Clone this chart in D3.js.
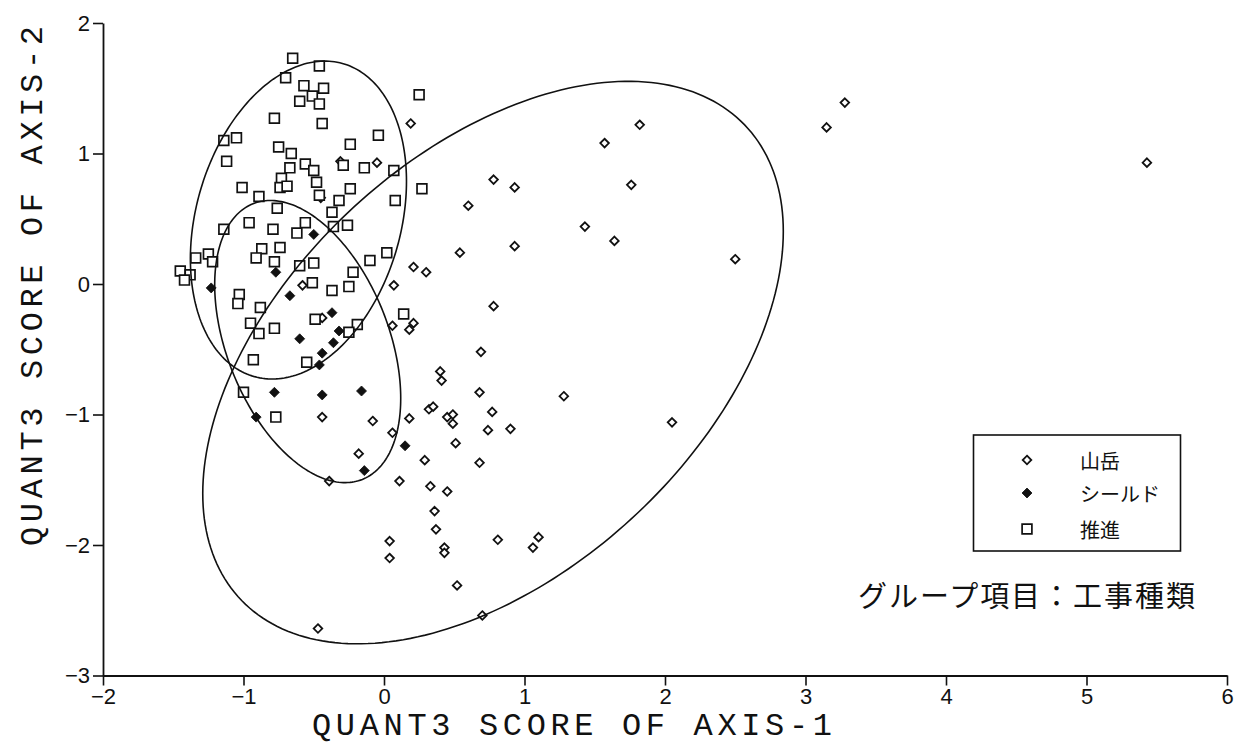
<!DOCTYPE html>
<html>
<head>
<meta charset="utf-8">
<script src="https://cdn.jsdelivr.net/npm/d3@7"></script>
<style>
  html, body { margin: 0; padding: 0; background: #fff; }
  svg { display: block; }
</style>
</head>
<body>
<svg id="chart" width="1234" height="746"></svg>
<script>
// ---- scores per group (axis-1, axis-2) ----
// 山岳
const yamaX = [0.19,-0.05,-0.31,-0.45,0.21,0.30,0.07,-0.58,-0.44,0.06,0.21,0.18,0.40,0.41,0.32,0.35,0.45,0.49,0.49,-0.44,
  -0.08,0.18,0.06,-0.18,0.29,-0.39,0.11,0.33,0.45,0.78,0.93,0.60,1.43,0.93,0.54,0.78,0.69,0.68,1.28,0.77,
  0.74,0.90,0.51,0.68,0.36,0.37,0.04,0.04,0.43,0.43,0.81,1.10,1.06,0.52,0.70,-0.47,1.82,1.57,1.76,1.64,
  2.50,2.05,3.15,3.28,5.43];
const yamaY = [1.23,0.93,0.94,0.66,0.13,0.09,-0.01,-0.01,-0.26,-0.32,-0.30,-0.35,-0.67,-0.74,-0.96,-0.94,-1.02,-1.00,-1.07,-1.02,
  -1.05,-1.03,-1.14,-1.30,-1.35,-1.51,-1.51,-1.55,-1.59,0.80,0.74,0.60,0.44,0.29,0.24,-0.17,-0.52,-0.83,-0.86,-0.98,
  -1.12,-1.11,-1.22,-1.37,-1.74,-1.88,-1.97,-2.10,-2.02,-2.06,-1.96,-1.94,-2.02,-2.31,-2.54,-2.64,1.22,1.08,0.76,0.33,
  0.19,-1.06,1.20,1.39,0.93];
// シールド
const shieldX = [-0.50,-0.77,-1.23,-0.67,-0.37,-0.32,-0.60,-0.36,-0.44,-0.46,-0.78,-0.44,-0.16,-0.91,0.15,-0.14];
const shieldY = [0.38,0.09,-0.03,-0.09,-0.22,-0.36,-0.42,-0.45,-0.53,-0.62,-0.83,-0.85,-0.82,-1.02,-1.24,-1.43];
// 推進
const suishinX = [-0.65,-0.46,-0.70,-0.57,-0.43,-0.51,-0.60,-0.46,0.25,-0.78,-0.44,-1.14,-1.05,-0.04,-0.75,-0.66,-0.24,-1.12,-0.56,-0.50,
  -0.67,-0.29,-0.14,0.07,-0.73,-0.48,-1.01,-0.74,-0.69,-0.24,0.27,-0.89,-0.46,-0.32,0.08,-0.76,-0.37,-1.14,-0.96,-0.79,
  -0.56,-0.62,-0.36,-0.26,-0.87,-0.74,-0.91,-0.78,-0.60,-0.50,-0.10,0.02,-1.34,-1.25,-1.22,-1.45,-1.38,-1.42,-0.22,-0.51,
  -0.37,-0.25,-1.03,-1.04,-0.88,-0.95,-0.89,-0.78,-0.49,-0.19,-0.25,0.14,-0.93,-0.55,-1.00,-0.77];
const suishinY = [1.73,1.67,1.58,1.52,1.50,1.44,1.40,1.38,1.45,1.27,1.23,1.10,1.12,1.14,1.05,1.00,1.07,0.94,0.92,0.87,
  0.89,0.91,0.89,0.87,0.81,0.78,0.74,0.74,0.75,0.73,0.73,0.67,0.68,0.64,0.64,0.58,0.55,0.42,0.47,0.42,
  0.47,0.39,0.44,0.45,0.27,0.28,0.20,0.17,0.14,0.16,0.18,0.24,0.20,0.23,0.17,0.10,0.07,0.03,0.09,0.01,
  -0.05,-0.02,-0.08,-0.15,-0.18,-0.30,-0.38,-0.34,-0.27,-0.31,-0.37,-0.23,-0.58,-0.60,-0.83,-1.02];

// group ellipses: centre, spread along each axis, correlation
const ellipseGroup = ["山岳", "シールド", "推進"];
const ellipseCx = [0.776, -0.543, -0.609];
const ellipseCy = [-0.602, -0.441, 0.490];
const ellipseSx = [2.066, 0.662, 0.769];
const ellipseSy = [2.155, 1.081, 1.218];
const ellipseR  = [0.466, -0.402, 0.244];

const xTicks = [-2, -1, 0, 1, 2, 3, 4, 5, 6];
const yTicks = [-3, -2, -1, 0, 1, 2];
const legendLabels = ["山岳", "シールド", "推進"];
const xTitle = "QUANT3 SCORE OF AXIS-1";
const yTitle = "QUANT3 SCORE OF AXIS-2";
const groupNote = "グループ項目：工事種類";

// ---- layout ----
const svg = d3.select("#chart");
const x = d3.scaleLinear().domain([-2, 6]).range([103, 1227]);
const y = d3.scaleLinear().domain([-3, 2]).range([675.5, 23]);

const tickFont = "'Liberation Sans Narrow', 'Liberation Sans', Arial, sans-serif";
const titleFont = "'Liberation Mono', 'DejaVu Sans Mono', monospace";
const jpFont = "'Noto Sans CJK JP', 'Noto Sans CJK SC', sans-serif";

// marker shapes
const diamondPath = r => `M0,${-r}L${r},0L0,${r}L${-r},0Z`;
const squarePath = s => `M${-s/2},${-s/2}H${s/2}V${s/2}H${-s/2}Z`;

// ---- axes ----
const fmt = d => d3.format("d")(d);
const xAxis = d3.axisBottom(x).tickValues(xTicks).tickFormat(fmt).tickSize(10).tickSizeOuter(0).tickPadding(3);
const yAxis = d3.axisLeft(y).tickValues(yTicks).tickFormat(fmt).tickSize(10).tickSizeOuter(0).tickPadding(3);

const gx = svg.append("g").attr("transform", `translate(0,${y(-3)})`).call(xAxis);
const gy = svg.append("g").attr("transform", `translate(${x(-2)},0)`).call(yAxis);
[gx, gy].forEach(g => {
  g.select(".domain").attr("stroke", "#111").attr("stroke-width", 1.8);
  g.selectAll(".tick line").attr("stroke", "#111").attr("stroke-width", 1.6);
  g.selectAll(".tick text").attr("fill", "#111").style("font-family", tickFont).style("font-size", "22px");
});

// axis titles
svg.append("text")
  .attr("x", 312).attr("y", 735)
  .attr("textLength", 520).attr("lengthAdjust", "spacing")
  .style("font-family", titleFont).style("font-size", "32px").attr("fill", "#111")
  .text(xTitle);

svg.append("text")
  .attr("transform", `translate(42,${286}) rotate(-90)`)
  .attr("text-anchor", "middle")
  .attr("textLength", 520).attr("lengthAdjust", "spacing")
  .style("font-family", titleFont).style("font-size", "32px").attr("fill", "#111")
  .text(yTitle);

// ---- points ----
const plot = svg.append("g");
const yama = yamaX.map((v, i) => [v, yamaY[i]]);
const shield = shieldX.map((v, i) => [v, shieldY[i]]);
const suishin = suishinX.map((v, i) => [v, suishinY[i]]);

plot.selectAll("path.yama").data(yama).join("path")
  .attr("class", "yama")
  .attr("transform", d => `translate(${x(d[0])},${y(d[1])})`)
  .attr("d", diamondPath(4.3))
  .attr("fill", "#fff").attr("stroke", "#111").attr("stroke-width", 1.8);

plot.selectAll("path.shield").data(shield).join("path")
  .attr("class", "shield")
  .attr("transform", d => `translate(${x(d[0])},${y(d[1])})`)
  .attr("d", diamondPath(5))
  .attr("fill", "#111").attr("stroke", "#111").attr("stroke-width", 0.8);

plot.selectAll("path.suishin").data(suishin).join("path")
  .attr("class", "suishin")
  .attr("transform", d => `translate(${x(d[0])},${y(d[1])})`)
  .attr("d", squarePath(9.8))
  .attr("fill", "#fff").attr("stroke", "#111").attr("stroke-width", 1.7);

// ---- ellipses ----
const ellipsePoints = i => {
  const n = 240, r = ellipseR[i], k = Math.sqrt(1 - r * r);
  return d3.range(n).map(j => {
    const t = 2 * Math.PI * j / n;
    return [ellipseCx[i] + ellipseSx[i] * Math.cos(t),
            ellipseCy[i] + ellipseSy[i] * (r * Math.cos(t) + k * Math.sin(t))];
  });
};
const ellLine = d3.line().x(d => x(d[0])).y(d => y(d[1])).curve(d3.curveLinearClosed);
svg.append("g").selectAll("path").data(ellipseGroup.map((g, i) => ellipsePoints(i))).join("path")
  .attr("d", ellLine)
  .attr("fill", "none").attr("stroke", "#111").attr("stroke-width", 1.6);

// ---- legend ----
const lg = svg.append("g");
lg.append("rect").attr("x", 973.5).attr("y", 435).attr("width", 207).attr("height", 116)
  .attr("fill", "#fff").attr("stroke", "#111").attr("stroke-width", 1.6);
const rowY = [460, 493, 529];
lg.append("path").attr("transform", `translate(1027,${rowY[0]})`).attr("d", diamondPath(4.3))
  .attr("fill", "#fff").attr("stroke", "#111").attr("stroke-width", 1.8);
lg.append("path").attr("transform", `translate(1027,${rowY[1]})`).attr("d", diamondPath(5))
  .attr("fill", "#111").attr("stroke", "#111").attr("stroke-width", 0.8);
lg.append("path").attr("transform", `translate(1027,${rowY[2]})`).attr("d", squarePath(9.8))
  .attr("fill", "#fff").attr("stroke", "#111").attr("stroke-width", 1.7);
lg.selectAll("text").data(legendLabels).join("text")
  .attr("x", 1080).attr("y", (d, i) => rowY[i])
  .attr("dominant-baseline", "central")
  .style("font-family", jpFont).style("font-size", "20px").attr("fill", "#111")
  .text(d => d);

svg.append("text")
  .attr("x", 858).attr("y", 594)
  .attr("dominant-baseline", "central")
  .attr("textLength", 337).attr("lengthAdjust", "spacing")
  .style("font-family", jpFont).style("font-size", "29px").attr("fill", "#111")
  .text(groupNote);
</script>
</body>
</html>
